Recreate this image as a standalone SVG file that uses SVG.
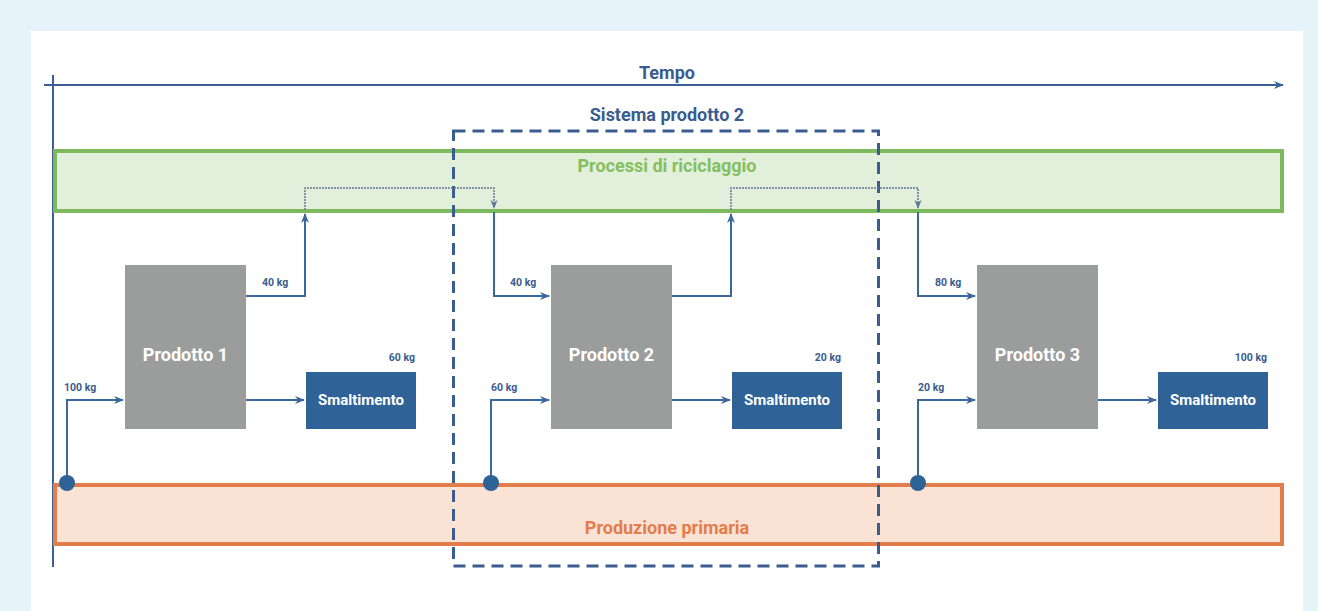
<svg xmlns="http://www.w3.org/2000/svg" width="1318" height="611" viewBox="0 0 1318 611">
  <defs>
    <style>
      .lbl { font-family: Roboto, "Liberation Sans", sans-serif; font-weight: 700; }
      .title { font-size: 18px; fill: #3a5c8e; }
      .band { font-size: 18px; }
      .kg { font-size: 10.5px; fill: #3a5c8e; }
      .prod { font-size: 18px; fill: #ffffff; }
      .smalt { font-size: 15px; fill: #ffffff; }
      .flow { fill: none; stroke: #3b679c; stroke-width: 2; }
      .dot { fill: none; stroke: #5f7896; stroke-width: 1.5; stroke-dasharray: 2 1; }
      .prodbox { fill: #9b9d9d; }
      .smaltbox { fill: #2f6397; }
      .src { fill: #2f6397; }
    </style>
    <marker id="arr" viewBox="0 0 10 10" refX="9" refY="5" markerWidth="5" markerHeight="5" orient="auto" markerUnits="strokeWidth">
      <path d="M0,1 L10,5 L0,9 L3,5 Z" fill="#3b679c"/>
    </marker>
    <marker id="arrs" viewBox="0 0 10 10" refX="9" refY="5" markerWidth="6" markerHeight="6" orient="auto" markerUnits="strokeWidth">
      <path d="M0,1 L10,5 L0,9 L3,5 Z" fill="#5f7896"/>
    </marker>
  </defs>

  <!-- page -->
  <rect x="0" y="0" width="1318" height="611" fill="#e6f3f8"/>
  <rect x="31" y="31" width="1272" height="580" fill="#ffffff"/>

  <!-- time axis -->
  <g id="tempo">
    <line x1="53" y1="75" x2="53" y2="567" stroke="#3b5f94" stroke-width="2"/>
    <line x1="44" y1="85" x2="1283" y2="85" stroke="#3b5f94" stroke-width="2" marker-end="url(#arr)"/>
    <text class="lbl title" x="667" y="79" text-anchor="middle">Tempo</text>
  </g>

  <!-- bands -->
  <g id="riciclaggio">
    <rect x="55" y="151" width="1227" height="60" fill="#e2efda" stroke="#7dba5d" stroke-width="4"/>
    <text class="lbl band" x="667" y="172" text-anchor="middle" fill="#84bf60">Processi di riciclaggio</text>
  </g>
  <g id="produzione">
    <rect x="55" y="485" width="1227" height="59" fill="#fae2d4" stroke="#e37d4b" stroke-width="4"/>
    <text class="lbl band" x="667" y="534" text-anchor="middle" fill="#e37d4b">Produzione primaria</text>
  </g>

  <!-- system boundary -->
  <g id="sistema">
    <rect x="453.5" y="131" width="425" height="435" fill="none" stroke="#3a5c8e" stroke-width="3" stroke-dasharray="12 7"/>
    <text class="lbl title" x="667" y="121" text-anchor="middle">Sistema prodotto 2</text>
  </g>

  <!-- connectors -->
  <g id="connectors">
    <!-- product 1 -->
    <path class="flow" d="M67,483 V400 H123" marker-end="url(#arr)"/>
    <path class="flow" d="M246,400 H304" marker-end="url(#arr)"/>
    <path class="flow" d="M246,296 H305 V214" marker-end="url(#arr)"/>
    <path class="dot" d="M305,210 V188 H494 V208" marker-end="url(#arrs)"/>
    <!-- product 2 -->
    <path class="flow" d="M494,212 V296 H549" marker-end="url(#arr)"/>
    <path class="flow" d="M491,483 V400 H549" marker-end="url(#arr)"/>
    <path class="flow" d="M672,400 H730" marker-end="url(#arr)"/>
    <path class="flow" d="M672,296 H731 V214" marker-end="url(#arr)"/>
    <path class="dot" d="M731,210 V188 H918 V208" marker-end="url(#arrs)"/>
    <!-- product 3 -->
    <path class="flow" d="M918,212 V296 H975" marker-end="url(#arr)"/>
    <path class="flow" d="M918,483 V400 H975" marker-end="url(#arr)"/>
    <path class="flow" d="M1098,400 H1156" marker-end="url(#arr)"/>
    <circle class="src" cx="67" cy="483" r="8"/>
    <circle class="src" cx="491" cy="483" r="8"/>
    <circle class="src" cx="918" cy="483" r="8"/>
    <text class="lbl kg" x="64" y="391">100 kg</text>
    <text class="lbl kg" x="262" y="286">40 kg</text>
    <text class="lbl kg" x="510" y="286">40 kg</text>
    <text class="lbl kg" x="491" y="391">60 kg</text>
    <text class="lbl kg" x="935" y="286">80 kg</text>
    <text class="lbl kg" x="918" y="391">20 kg</text>
  </g>

  <!-- products -->
  <g id="prodotto1">
    <rect class="prodbox" x="125" y="265" width="121" height="164"/>
    <text class="lbl prod" x="185.5" y="361" text-anchor="middle">Prodotto 1</text>
  </g>
  <g id="prodotto2">
    <rect class="prodbox" x="551" y="265" width="121" height="164"/>
    <text class="lbl prod" x="611.5" y="361" text-anchor="middle">Prodotto 2</text>
  </g>
  <g id="prodotto3">
    <rect class="prodbox" x="977" y="265" width="121" height="164"/>
    <text class="lbl prod" x="1037.5" y="361" text-anchor="middle">Prodotto 3</text>
  </g>

  <!-- disposal -->
  <g id="smaltimento1">
    <rect class="smaltbox" x="306" y="372" width="110" height="57"/>
    <text class="lbl smalt" x="361" y="405" text-anchor="middle">Smaltimento</text>
    <text class="lbl kg" x="415" y="361" text-anchor="end">60 kg</text>
  </g>
  <g id="smaltimento2">
    <rect class="smaltbox" x="732" y="372" width="110" height="57"/>
    <text class="lbl smalt" x="787" y="405" text-anchor="middle">Smaltimento</text>
    <text class="lbl kg" x="841" y="361" text-anchor="end">20 kg</text>
  </g>
  <g id="smaltimento3">
    <rect class="smaltbox" x="1158" y="372" width="110" height="57"/>
    <text class="lbl smalt" x="1213" y="405" text-anchor="middle">Smaltimento</text>
    <text class="lbl kg" x="1267" y="361" text-anchor="end">100 kg</text>
  </g>
</svg>
